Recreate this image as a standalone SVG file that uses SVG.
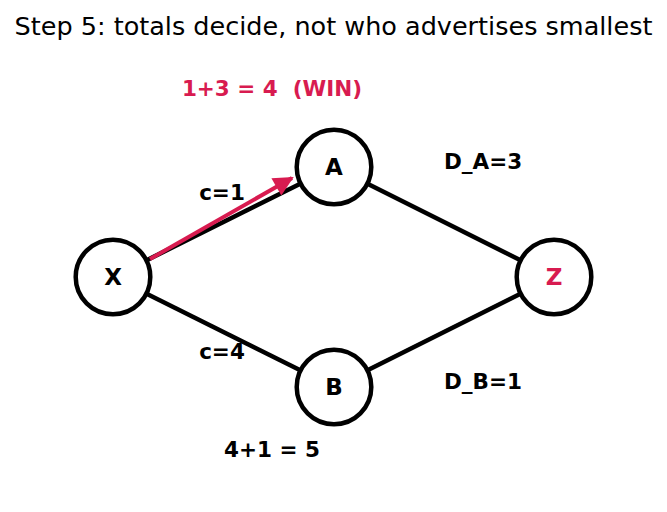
<svg xmlns="http://www.w3.org/2000/svg" width="667" height="512" viewBox="0 0 667 512">
<style>
.edge{stroke:#000;stroke-width:4.5;fill:none}
.node{fill:#fff;stroke:#000;stroke-width:4.5}
.lbl{font-family:"DejaVu Sans",sans-serif;font-weight:bold;font-size:21.5px;text-anchor:middle;dominant-baseline:central}
.nl{font-family:"DejaVu Sans",sans-serif;font-weight:bold;font-size:23px;text-anchor:middle;dominant-baseline:central}
.red{fill:#d81b50}
</style>
<defs>
<marker id="ah" viewBox="0 0 10 10" refX="9" refY="5" markerWidth="5.5" markerHeight="5" orient="auto" markerUnits="strokeWidth">
<path d="M0,0 L10,5 L0,10 z" fill="#d81b50"/>
</marker>
</defs>
<rect width="667" height="512" fill="#fff"/>
<text x="333.5" y="26" font-family="DejaVu Sans, sans-serif" font-size="25.5" text-anchor="middle" dominant-baseline="central">Step 5: totals decide, not who advertises smallest</text>
<g id="connectors">
<line class="edge" x1="113" y1="277" x2="334" y2="167"/>
<line class="edge" x1="113" y1="277" x2="334" y2="387"/>
<line class="edge" x1="334" y1="167" x2="554" y2="277"/>
<line class="edge" x1="334" y1="387" x2="554" y2="277"/>
<line x1="150" y1="259" x2="292" y2="178" stroke="#d81b50" stroke-width="4" marker-end="url(#ah)"/>
</g>
<g id="X"><circle class="node" cx="113" cy="277" r="37.3"/><text class="nl" x="113" y="277">X</text></g>
<g id="A"><circle class="node" cx="334" cy="167" r="37.3"/><text class="nl" x="334" y="167">A</text></g>
<g id="B"><circle class="node" cx="334" cy="387" r="37.3"/><text class="nl" x="334" y="387">B</text></g>
<g id="Z"><circle class="node" cx="554" cy="277" r="37.3" stroke="#d81b50"/><text class="nl red" x="554" y="277">Z</text></g>
<g id="labels">
<text class="lbl" x="222" y="192">c=1</text>
<text class="lbl" x="222" y="351">c=4</text>
<text class="lbl" x="483" y="161">D_A=3</text>
<text class="lbl" x="483" y="381">D_B=1</text>
<text class="lbl" x="272" y="449">4+1 = 5</text>
<text class="lbl red" x="272" y="88" xml:space="preserve">1+3 = 4  (WIN)</text>
</g>
</svg>
